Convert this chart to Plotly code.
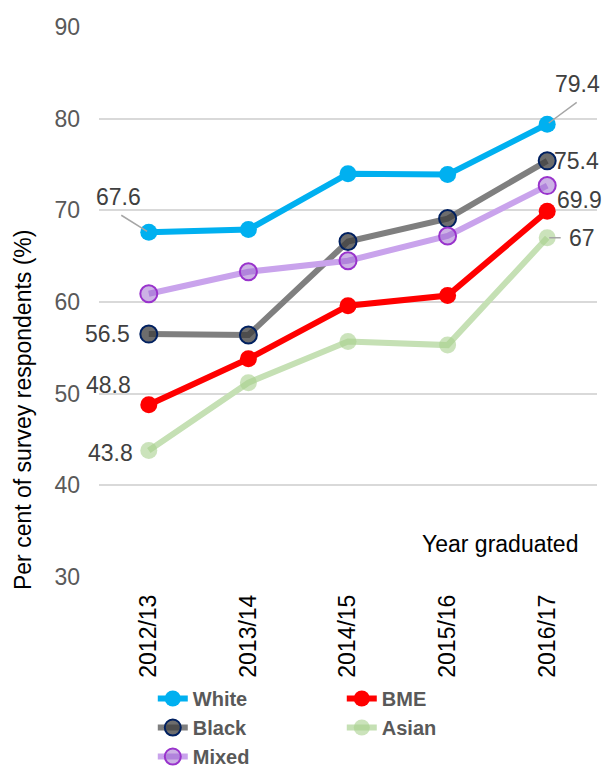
import plotly.graph_objects as go

# Graduation-year categories and survey values (per cent)
years = ["2012/13", "2013/14", "2014/15", "2015/16", "2016/17"]
white = [67.6, 67.9, 74.0, 73.9, 79.4]
bme = [48.8, 53.8, 59.6, 60.7, 69.9]
black = [56.5, 56.4, 66.6, 69.1, 75.4]
asian = [43.8, 51.2, 55.7, 55.3, 67.0]
mixed = [60.9, 63.3, 64.5, 67.2, 72.7]

y_ticks = [30, 40, 50, 60, 70, 80, 90]

FONT = "Liberation Sans, Arial, sans-serif"

series = [
    # name, values, line colour, marker fill, marker border, legend rank
    ("White", white, "#00B0F0", "#00B0F0", None, 1),
    ("BME", bme, "#FF0000", "#FF0000", None, 2),
    ("Black", black, "#7F7F7F", "rgba(60,60,60,0.75)", "#002060", 3),
    ("Asian", asian, "#C5E0B4", "rgba(169,209,142,0.6)", None, 4),
    ("Mixed", mixed, "#C9A3EC", "rgba(153,102,204,0.5)", "#9933CC", 5),
]

fig = go.Figure()
for name, vals, lc, mc, mb, rank in series:
    fig.add_trace(go.Scatter(
        x=years, y=vals, name=name, mode="lines+markers",
        line=dict(color=lc, width=6),
        marker=dict(size=17, color=mc,
                    line=dict(color=mb or mc, width=2 if mb else 0)),
        legendrank=rank,
    ))

# value labels: (series values, index, x/y pixel offset of text centre, leader tail offset)
labels = [
    (white, 0, (-30, -35), (-29, -18)),
    (black, 0, (-41, 0), None),
    (bme, 0, (-40, -20), None),
    (asian, 0, (-38, 2), None),
    (white, 4, (30, -40), (31, -23)),
    (black, 4, (29, 0), None),
    (bme, 4, (32, -11), None),
    (asian, 4, (35, 0), (15, 0)),
]
for vals, i, (dx, dy), tail in labels:
    v = vals[i]
    txt = f"{v:g}"
    fig.add_annotation(
        x=years[i], y=v, xref="x", yref="y", text=txt, showarrow=False,
        xshift=dx, yshift=-dy, xanchor="center", yanchor="middle",
        font=dict(family=FONT, size=23, color="#404040"),
    )
    if tail is not None:
        fig.add_annotation(
            x=years[i], y=v, xref="x", yref="y", text="", showarrow=True,
            ax=tail[0], ay=tail[1], axref="pixel", ayref="pixel",
            arrowhead=0, arrowwidth=1.5, arrowcolor="#A6A6A6", standoff=2,
        )

fig.add_annotation(
    x=0.805, y=0.06, xref="paper", yref="paper", text="Year graduated",
    showarrow=False, xanchor="center", yanchor="middle",
    font=dict(family=FONT, size=23, color="#000000"),
)
fig.add_annotation(
    x=-0.1526, y=0.3036, xref="paper", yref="paper",
    text="Per cent of survey respondents (%)", textangle=-90,
    showarrow=False, xanchor="center", yanchor="middle",
    font=dict(family=FONT, size=23, color="#000000"),
)

fig.update_layout(
    width=603, height=767,
    margin=dict(l=99, r=6, t=27, b=190, autoexpand=False),
    paper_bgcolor="white", plot_bgcolor="white",
    font=dict(family=FONT),
    showlegend=True,
    legend=dict(
        orientation="h", x=0.108, xanchor="left", y=-0.1855, yanchor="top",
        entrywidth=144, entrywidthmode="pixels",
        font=dict(family=FONT, size=20, color="#595959", weight="bold"),
        bgcolor="rgba(0,0,0,0)",
    ),
)
fig.update_xaxes(
    type="category", range=[-0.5, 4.5], showgrid=False, zeroline=False,
    showline=False, ticks="", tickangle=-90, ticklabelstandoff=12,
    automargin=False,
    tickfont=dict(family=FONT, size=23, color="#000000"),
)
fig.update_yaxes(
    range=[30, 90], tickvals=y_ticks, showgrid=True, gridcolor="#D9D9D9",
    gridwidth=1.5, zeroline=False, showline=False, ticks="",
    ticklabelstandoff=18, automargin=False,
    tickfont=dict(family=FONT, size=23, color="#595959"),
)

fig.write_html("out.html")
